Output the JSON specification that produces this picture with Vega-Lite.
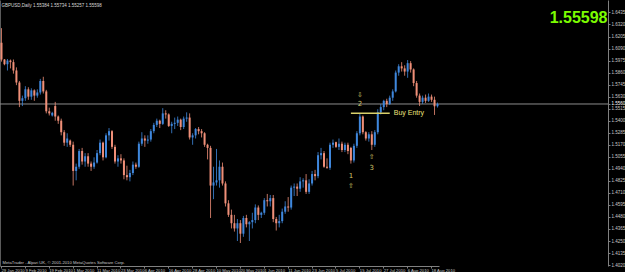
{
"$schema":"https://vega.github.io/schema/vega-lite/v6.json",
"width":608,"height":266,
"autosize":{"type":"none"},
"padding":{"left":0,"top":0,"right":17,"bottom":6},
"background":"#000000",
"config":{"view":{"stroke":null},"font":"Liberation Sans"},
"title":{"text":"GBPUSD,Daily  1.55384 1.55734 1.55257 1.55598","anchor":"start","offset":-7,"fontSize":4.5,"fontWeight":"normal","color":"#d8d8d8","dx":2,"font":"Liberation Sans"},
"datasets":{
"bars":[
{"d":"29 Jan 2010","o":1.6145,"h":1.6285,"l":1.5965,"c":1.5985},
{"d":"31 Jan 2010","o":1.5985,"h":1.5990,"l":1.5930,"c":1.5940},
{"d":"1 Feb 2010","o":1.5940,"h":1.5990,"l":1.5880,"c":1.5975},
{"d":"2 Feb 2010","o":1.5975,"h":1.5985,"l":1.5900,"c":1.5960},
{"d":"3 Feb 2010","o":1.5960,"h":1.5985,"l":1.5850,"c":1.5880},
{"d":"4 Feb 2010","o":1.5880,"h":1.5910,"l":1.5740,"c":1.5765},
{"d":"5 Feb 2010","o":1.5765,"h":1.5780,"l":1.5530,"c":1.5590},
{"d":"8 Feb 2010","o":1.5590,"h":1.5640,"l":1.5540,"c":1.5615},
{"d":"9 Feb 2010","o":1.5615,"h":1.5730,"l":1.5590,"c":1.5700},
{"d":"10 Feb 2010","o":1.5700,"h":1.5720,"l":1.5600,"c":1.5630},
{"d":"11 Feb 2010","o":1.5630,"h":1.5710,"l":1.5600,"c":1.5690},
{"d":"12 Feb 2010","o":1.5690,"h":1.5700,"l":1.5590,"c":1.5640},
{"d":"15 Feb 2010","o":1.5640,"h":1.5700,"l":1.5620,"c":1.5670},
{"d":"16 Feb 2010","o":1.5670,"h":1.5800,"l":1.5650,"c":1.5780},
{"d":"17 Feb 2010","o":1.5780,"h":1.5820,"l":1.5660,"c":1.5680},
{"d":"18 Feb 2010","o":1.5680,"h":1.5695,"l":1.5470,"c":1.5490},
{"d":"19 Feb 2010","o":1.5490,"h":1.5525,"l":1.5450,"c":1.5470},
{"d":"21 Feb 2010","o":1.5450,"h":1.5485,"l":1.5440,"c":1.5475},
{"d":"22 Feb 2010","o":1.5540,"h":1.5580,"l":1.5400,"c":1.5440},
{"d":"23 Feb 2010","o":1.5440,"h":1.5450,"l":1.5370,"c":1.5400},
{"d":"24 Feb 2010","o":1.5400,"h":1.5420,"l":1.5260,"c":1.5290},
{"d":"25 Feb 2010","o":1.5290,"h":1.5310,"l":1.5160,"c":1.5190},
{"d":"26 Feb 2010","o":1.5190,"h":1.5280,"l":1.5150,"c":1.5230},
{"d":"28 Feb 2010","o":1.5210,"h":1.5220,"l":1.5150,"c":1.5170},
{"d":"1 Mar 2010","o":1.5170,"h":1.5200,"l":1.4780,"c":1.4920},
{"d":"2 Mar 2010","o":1.4920,"h":1.4990,"l":1.4830,"c":1.4960},
{"d":"3 Mar 2010","o":1.4960,"h":1.5130,"l":1.4940,"c":1.5110},
{"d":"4 Mar 2010","o":1.5110,"h":1.5140,"l":1.4980,"c":1.5010},
{"d":"5 Mar 2010","o":1.5010,"h":1.5090,"l":1.4960,"c":1.5060},
{"d":"8 Mar 2010","o":1.5060,"h":1.5090,"l":1.4960,"c":1.4990},
{"d":"9 Mar 2010","o":1.4990,"h":1.5010,"l":1.4920,"c":1.4960},
{"d":"10 Mar 2010","o":1.4960,"h":1.5050,"l":1.4940,"c":1.5000},
{"d":"11 Mar 2010","o":1.5000,"h":1.5120,"l":1.4990,"c":1.5090},
{"d":"12 Mar 2010","o":1.5090,"h":1.5220,"l":1.5070,"c":1.5190},
{"d":"15 Mar 2010","o":1.5190,"h":1.5200,"l":1.5020,"c":1.5050},
{"d":"16 Mar 2010","o":1.5050,"h":1.5280,"l":1.5040,"c":1.5260},
{"d":"17 Mar 2010","o":1.5260,"h":1.5330,"l":1.5210,"c":1.5300},
{"d":"18 Mar 2010","o":1.5300,"h":1.5310,"l":1.5130,"c":1.5150},
{"d":"19 Mar 2010","o":1.5150,"h":1.5170,"l":1.4990,"c":1.5010},
{"d":"22 Mar 2010","o":1.5010,"h":1.5070,"l":1.4960,"c":1.5040},
{"d":"23 Mar 2010","o":1.5040,"h":1.5080,"l":1.4990,"c":1.5020},
{"d":"24 Mar 2010","o":1.5020,"h":1.5040,"l":1.4840,"c":1.4880},
{"d":"25 Mar 2010","o":1.4880,"h":1.4970,"l":1.4830,"c":1.4860},
{"d":"26 Mar 2010","o":1.4860,"h":1.4930,"l":1.4820,"c":1.4900},
{"d":"29 Mar 2010","o":1.4900,"h":1.5010,"l":1.4880,"c":1.4980},
{"d":"30 Mar 2010","o":1.4980,"h":1.5000,"l":1.4940,"c":1.4960},
{"d":"31 Mar 2010","o":1.4960,"h":1.5200,"l":1.4950,"c":1.5180},
{"d":"1 Apr 2010","o":1.5180,"h":1.5290,"l":1.5160,"c":1.5230},
{"d":"6 Apr 2010","o":1.5230,"h":1.5260,"l":1.5150,"c":1.5210},
{"d":"7 Apr 2010","o":1.5210,"h":1.5260,"l":1.5180,"c":1.5220},
{"d":"8 Apr 2010","o":1.5220,"h":1.5320,"l":1.5200,"c":1.5300},
{"d":"9 Apr 2010","o":1.5300,"h":1.5380,"l":1.5280,"c":1.5360},
{"d":"12 Apr 2010","o":1.5360,"h":1.5420,"l":1.5340,"c":1.5400},
{"d":"13 Apr 2010","o":1.5400,"h":1.5410,"l":1.5330,"c":1.5370},
{"d":"14 Apr 2010","o":1.5370,"h":1.5520,"l":1.5360,"c":1.5470},
{"d":"15 Apr 2010","o":1.5470,"h":1.5500,"l":1.5420,"c":1.5460},
{"d":"16 Apr 2010","o":1.5460,"h":1.5470,"l":1.5340,"c":1.5350},
{"d":"19 Apr 2010","o":1.5350,"h":1.5390,"l":1.5280,"c":1.5370},
{"d":"20 Apr 2010","o":1.5370,"h":1.5430,"l":1.5320,"c":1.5380},
{"d":"21 Apr 2010","o":1.5380,"h":1.5440,"l":1.5350,"c":1.5410},
{"d":"22 Apr 2010","o":1.5410,"h":1.5420,"l":1.5310,"c":1.5340},
{"d":"23 Apr 2010","o":1.5340,"h":1.5440,"l":1.5320,"c":1.5420},
{"d":"26 Apr 2010","o":1.5420,"h":1.5480,"l":1.5390,"c":1.5430},
{"d":"27 Apr 2010","o":1.5430,"h":1.5470,"l":1.5220,"c":1.5240},
{"d":"28 Apr 2010","o":1.5240,"h":1.5280,"l":1.5170,"c":1.5260},
{"d":"29 Apr 2010","o":1.5260,"h":1.5330,"l":1.5230,"c":1.5320},
{"d":"30 Apr 2010","o":1.5320,"h":1.5340,"l":1.5270,"c":1.5300},
{"d":"3 May 2010","o":1.5300,"h":1.5320,"l":1.5240,"c":1.5280},
{"d":"4 May 2010","o":1.5280,"h":1.5290,"l":1.5150,"c":1.5170},
{"d":"5 May 2010","o":1.5170,"h":1.5180,"l":1.5030,"c":1.5140},
{"d":"6 May 2010","o":1.5140,"h":1.5160,"l":1.4470,"c":1.4780},
{"d":"7 May 2010","o":1.4780,"h":1.4960,"l":1.4650,"c":1.4810},
{"d":"10 May 2010","o":1.4810,"h":1.5130,"l":1.4780,"c":1.4830},
{"d":"11 May 2010","o":1.4830,"h":1.5020,"l":1.4760,"c":1.4960},
{"d":"12 May 2010","o":1.4960,"h":1.5000,"l":1.4780,"c":1.4800},
{"d":"13 May 2010","o":1.4800,"h":1.4820,"l":1.4580,"c":1.4610},
{"d":"14 May 2010","o":1.4610,"h":1.4640,"l":1.4480,"c":1.4500},
{"d":"17 May 2010","o":1.4500,"h":1.4550,"l":1.4370,"c":1.4420},
{"d":"18 May 2010","o":1.4420,"h":1.4500,"l":1.4340,"c":1.4370},
{"d":"19 May 2010","o":1.4370,"h":1.4460,"l":1.4250,"c":1.4420},
{"d":"20 May 2010","o":1.4420,"h":1.4450,"l":1.4231,"c":1.4320},
{"d":"21 May 2010","o":1.4320,"h":1.4490,"l":1.4290,"c":1.4470},
{"d":"24 May 2010","o":1.4470,"h":1.4500,"l":1.4380,"c":1.4410},
{"d":"25 May 2010","o":1.4410,"h":1.4440,"l":1.4250,"c":1.4430},
{"d":"26 May 2010","o":1.4430,"h":1.4520,"l":1.4370,"c":1.4450},
{"d":"27 May 2010","o":1.4450,"h":1.4600,"l":1.4420,"c":1.4570},
{"d":"28 May 2010","o":1.4570,"h":1.4590,"l":1.4450,"c":1.4500},
{"d":"31 May 2010","o":1.4500,"h":1.4530,"l":1.4470,"c":1.4520},
{"d":"1 Jun 2010","o":1.4520,"h":1.4660,"l":1.4500,"c":1.4640},
{"d":"2 Jun 2010","o":1.4640,"h":1.4700,"l":1.4580,"c":1.4630},
{"d":"3 Jun 2010","o":1.4630,"h":1.4690,"l":1.4580,"c":1.4660},
{"d":"4 Jun 2010","o":1.4660,"h":1.4690,"l":1.4430,"c":1.4460},
{"d":"7 Jun 2010","o":1.4460,"h":1.4480,"l":1.4350,"c":1.4420},
{"d":"8 Jun 2010","o":1.4420,"h":1.4500,"l":1.4380,"c":1.4440},
{"d":"9 Jun 2010","o":1.4440,"h":1.4560,"l":1.4420,"c":1.4530},
{"d":"10 Jun 2010","o":1.4530,"h":1.4630,"l":1.4510,"c":1.4580},
{"d":"11 Jun 2010","o":1.4580,"h":1.4670,"l":1.4530,"c":1.4570},
{"d":"14 Jun 2010","o":1.4570,"h":1.4780,"l":1.4550,"c":1.4760},
{"d":"15 Jun 2010","o":1.4760,"h":1.4800,"l":1.4680,"c":1.4770},
{"d":"16 Jun 2010","o":1.4770,"h":1.4800,"l":1.4680,"c":1.4750},
{"d":"17 Jun 2010","o":1.4750,"h":1.4860,"l":1.4720,"c":1.4820},
{"d":"18 Jun 2010","o":1.4820,"h":1.4850,"l":1.4760,"c":1.4830},
{"d":"21 Jun 2010","o":1.4830,"h":1.4890,"l":1.4700,"c":1.4720},
{"d":"22 Jun 2010","o":1.4720,"h":1.4840,"l":1.4700,"c":1.4800},
{"d":"23 Jun 2010","o":1.4800,"h":1.4920,"l":1.4780,"c":1.4890},
{"d":"24 Jun 2010","o":1.4890,"h":1.4930,"l":1.4830,"c":1.4870},
{"d":"25 Jun 2010","o":1.4870,"h":1.5100,"l":1.4850,"c":1.5070},
{"d":"28 Jun 2010","o":1.5070,"h":1.5140,"l":1.5030,"c":1.5090},
{"d":"29 Jun 2010","o":1.5090,"h":1.5110,"l":1.4950,"c":1.4960},
{"d":"30 Jun 2010","o":1.4960,"h":1.5040,"l":1.4940,"c":1.4950},
{"d":"1 Jul 2010","o":1.4950,"h":1.5190,"l":1.4930,"c":1.5170},
{"d":"2 Jul 2010","o":1.5170,"h":1.5220,"l":1.5140,"c":1.5190},
{"d":"5 Jul 2010","o":1.5195,"h":1.5200,"l":1.5140,"c":1.5150},
{"d":"6 Jul 2010","o":1.5150,"h":1.5230,"l":1.5120,"c":1.5180},
{"d":"7 Jul 2010","o":1.5180,"h":1.5200,"l":1.5100,"c":1.5120},
{"d":"8 Jul 2010","o":1.5120,"h":1.5190,"l":1.5100,"c":1.5170},
{"d":"9 Jul 2010","o":1.5170,"h":1.5190,"l":1.5080,"c":1.5110},
{"d":"12 Jul 2010","o":1.5140,"h":1.5150,"l":1.4990,"c":1.5020},
{"d":"13 Jul 2010","o":1.5020,"h":1.5180,"l":1.5000,"c":1.5160},
{"d":"14 Jul 2010","o":1.5160,"h":1.5300,"l":1.5140,"c":1.5280},
{"d":"15 Jul 2010","o":1.5280,"h":1.5472,"l":1.5260,"c":1.5440},
{"d":"16 Jul 2010","o":1.5440,"h":1.5450,"l":1.5270,"c":1.5290},
{"d":"19 Jul 2010","o":1.5290,"h":1.5300,"l":1.5210,"c":1.5230},
{"d":"20 Jul 2010","o":1.5230,"h":1.5290,"l":1.5200,"c":1.5270},
{"d":"21 Jul 2010","o":1.5270,"h":1.5300,"l":1.5120,"c":1.5170},
{"d":"22 Jul 2010","o":1.5170,"h":1.5310,"l":1.5150,"c":1.5290},
{"d":"23 Jul 2010","o":1.5290,"h":1.5510,"l":1.5270,"c":1.5480},
{"d":"26 Jul 2010","o":1.5480,"h":1.5560,"l":1.5460,"c":1.5530},
{"d":"27 Jul 2010","o":1.5530,"h":1.5600,"l":1.5500,"c":1.5590},
{"d":"28 Jul 2010","o":1.5590,"h":1.5610,"l":1.5530,"c":1.5560},
{"d":"29 Jul 2010","o":1.5560,"h":1.5640,"l":1.5550,"c":1.5620},
{"d":"30 Jul 2010","o":1.5620,"h":1.5700,"l":1.5590,"c":1.5680},
{"d":"2 Aug 2010","o":1.5680,"h":1.5880,"l":1.5670,"c":1.5860},
{"d":"3 Aug 2010","o":1.5860,"h":1.5940,"l":1.5830,"c":1.5920},
{"d":"4 Aug 2010","o":1.5920,"h":1.5960,"l":1.5870,"c":1.5900},
{"d":"5 Aug 2010","o":1.5900,"h":1.5930,"l":1.5830,"c":1.5870},
{"d":"6 Aug 2010","o":1.5870,"h":1.5980,"l":1.5810,"c":1.5950},
{"d":"9 Aug 2010","o":1.5950,"h":1.5970,"l":1.5860,"c":1.5890},
{"d":"10 Aug 2010","o":1.5890,"h":1.5900,"l":1.5730,"c":1.5760},
{"d":"11 Aug 2010","o":1.5760,"h":1.5780,"l":1.5620,"c":1.5640},
{"d":"12 Aug 2010","o":1.5640,"h":1.5660,"l":1.5540,"c":1.5580},
{"d":"13 Aug 2010","o":1.5580,"h":1.5640,"l":1.5560,"c":1.5620},
{"d":"16 Aug 2010","o":1.5620,"h":1.5650,"l":1.5570,"c":1.5590},
{"d":"17 Aug 2010","o":1.5590,"h":1.5660,"l":1.5580,"c":1.5630},
{"d":"18 Aug 2010","o":1.5630,"h":1.5650,"l":1.5580,"c":1.5600},
{"d":"19 Aug 2010","o":1.5600,"h":1.5630,"l":1.5455,"c":1.5538},
{"d":"20 Aug 2010","o":1.55384,"h":1.55734,"l":1.55257,"c":1.55598}
],
"notes":[
{"d":"15 Jul 2010","p":1.5646,"t":"⇩"},
{"d":"15 Jul 2010","p":1.5557,"t":"2"},
{"d":"21 Jul 2010","p":1.5056,"t":"⇧"},
{"d":"21 Jul 2010","p":1.4945,"t":"3"},
{"d":"12 Jul 2010","p":1.4874,"t":"1"},
{"d":"12 Jul 2010","p":1.4776,"t":"⇧"}
]
},
"resolve":{"axis":{"y":"independent"}},
"layer":[
{
"data":{"values":[{"p":1.55598}]},
"mark":{"type":"rule","color":"#8c8c8c","strokeWidth":1},
"encoding":{
"y":{"field":"p","type":"quantitative","scale":{"domain":[1.4011,1.6554],"nice":false,"zero":false},
"axis":{"orient":"left","labels":false,"ticks":false,"title":null,"grid":false,"domainColor":"#5a5a5a"}}
}
},
{
"data":{"name":"bars"},
"mark":{"type":"rule","strokeWidth":1,"opacity":0.8},
"encoding":{
"x":{"field":"d","type":"ordinal","sort":null,
"scale":{"type":"band","paddingInner":0,"paddingOuter":0,"round":false,"range":[0,439],
"domain":["29 Jan 2010","31 Jan 2010","1 Feb 2010","2 Feb 2010","3 Feb 2010","4 Feb 2010","5 Feb 2010","8 Feb 2010","9 Feb 2010","10 Feb 2010","11 Feb 2010","12 Feb 2010","15 Feb 2010","16 Feb 2010","17 Feb 2010","18 Feb 2010","19 Feb 2010","21 Feb 2010","22 Feb 2010","23 Feb 2010","24 Feb 2010","25 Feb 2010","26 Feb 2010","28 Feb 2010","1 Mar 2010","2 Mar 2010","3 Mar 2010","4 Mar 2010","5 Mar 2010","8 Mar 2010","9 Mar 2010","10 Mar 2010","11 Mar 2010","12 Mar 2010","15 Mar 2010","16 Mar 2010","17 Mar 2010","18 Mar 2010","19 Mar 2010","22 Mar 2010","23 Mar 2010","24 Mar 2010","25 Mar 2010","26 Mar 2010","29 Mar 2010","30 Mar 2010","31 Mar 2010","1 Apr 2010","6 Apr 2010","7 Apr 2010","8 Apr 2010","9 Apr 2010","12 Apr 2010","13 Apr 2010","14 Apr 2010","15 Apr 2010","16 Apr 2010","19 Apr 2010","20 Apr 2010","21 Apr 2010","22 Apr 2010","23 Apr 2010","26 Apr 2010","27 Apr 2010","28 Apr 2010","29 Apr 2010","30 Apr 2010","3 May 2010","4 May 2010","5 May 2010","6 May 2010","7 May 2010","10 May 2010","11 May 2010","12 May 2010","13 May 2010","14 May 2010","17 May 2010","18 May 2010","19 May 2010","20 May 2010","21 May 2010","24 May 2010","25 May 2010","26 May 2010","27 May 2010","28 May 2010","31 May 2010","1 Jun 2010","2 Jun 2010","3 Jun 2010","4 Jun 2010","7 Jun 2010","8 Jun 2010","9 Jun 2010","10 Jun 2010","11 Jun 2010","14 Jun 2010","15 Jun 2010","16 Jun 2010","17 Jun 2010","18 Jun 2010","21 Jun 2010","22 Jun 2010","23 Jun 2010","24 Jun 2010","25 Jun 2010","28 Jun 2010","29 Jun 2010","30 Jun 2010","1 Jul 2010","2 Jul 2010","5 Jul 2010","6 Jul 2010","7 Jul 2010","8 Jul 2010","9 Jul 2010","12 Jul 2010","13 Jul 2010","14 Jul 2010","15 Jul 2010","16 Jul 2010","19 Jul 2010","20 Jul 2010","21 Jul 2010","22 Jul 2010","23 Jul 2010","26 Jul 2010","27 Jul 2010","28 Jul 2010","29 Jul 2010","30 Jul 2010","2 Aug 2010","3 Aug 2010","4 Aug 2010","5 Aug 2010","6 Aug 2010","9 Aug 2010","10 Aug 2010","11 Aug 2010","12 Aug 2010","13 Aug 2010","16 Aug 2010","17 Aug 2010","18 Aug 2010","19 Aug 2010","20 Aug 2010"]},
"axis":{"values":["29 Jan 2010","9 Feb 2010","19 Feb 2010","1 Mar 2010","11 Mar 2010","23 Mar 2010","6 Apr 2010","16 Apr 2010","28 Apr 2010","10 May 2010","20 May 2010","1 Jun 2010","11 Jun 2010","23 Jun 2010","5 Jul 2010","15 Jul 2010","27 Jul 2010","6 Aug 2010","18 Aug 2010"],
"labelAngle":0,"labelAlign":"left","labelBaseline":"top","labelFontSize":4.2,"labelColor":"#c8c8c8","labelPadding":0,"labelOverlap":false,"labelBound":false,
"tickSize":2,"tickColor":"#808080","domainColor":"#808080","grid":false,
"title":"MetaTrader - Alpari UK, © 2001-2010 MetaQuotes Software Corp.","titleFontSize":4.2,"titleFontWeight":"normal","titleColor":"#c8c8c8","titleAlign":"left","titleAnchor":"start","titleBaseline":"alphabetic","titleX":2,"titleY":-3}},
"y":{"field":"l","type":"quantitative","scale":{"domain":[1.4011,1.6554],"nice":false,"zero":false},
"axis":{"orient":"right","values":[1.402,1.4135,1.425,1.4365,1.448,1.4595,1.471,1.4825,1.494,1.5055,1.517,1.5285,1.54,1.5515,1.55598,1.563,1.5745,1.586,1.5975,1.609,1.6205,1.632,1.6435],
"format":".4f","labelFontSize":4.5,"labelColor":{"expr":"datum.value == 1.55598 ? '#ffffff' : '#c8c8c8'"},"labelPadding":1,"labelOverlap":false,"labelBound":false,
"tickSize":2,"tickColor":"#808080","domainColor":"#808080","grid":false,
"title":"1.55598","titleAngle":0,"titleAlign":"right","titleBaseline":"alphabetic","titleX":-1,"titleY":22,"titleFontSize":16,"titleFontWeight":"bold","titleColor":"#7CFC00","titleFont":"Liberation Sans"}},
"y2":{"field":"h"},
"color":{"condition":{"test":"datum.c >= datum.o","value":"#3f87dc"},"value":"#ef8f78"}
}
},
{
"data":{"name":"bars"},
"mark":{"type":"bar","size":2},
"encoding":{
"x":{"field":"d","type":"ordinal","sort":null},
"y":{"field":"o","type":"quantitative","axis":null},
"y2":{"field":"c"},
"color":{"condition":{"test":"datum.c >= datum.o","value":"#3f87dc"},"value":"#ef8f78"}
}
},
{
"data":{"values":[{"a":"12 Jul 2010","b":"29 Jul 2010","p":1.5471}]},
"mark":{"type":"rule","color":"#d9d06a","strokeWidth":1.5},
"encoding":{
"x":{"field":"a","type":"ordinal","sort":null},
"x2":{"field":"b"},
"y":{"field":"p","type":"quantitative","axis":null}
}
},
{
"data":{"name":"notes"},
"mark":{"type":"text","color":"#d2c46a","fontSize":7,"font":"DejaVu Sans","align":"center","baseline":"middle"},
"encoding":{
"x":{"field":"d","type":"ordinal","sort":null},
"y":{"field":"p","type":"quantitative","axis":null},
"text":{"field":"t"}
}
},
{
"data":{"values":[{"d":"30 Jul 2010","p":1.5471,"t":"Buy Entry"}]},
"mark":{"type":"text","color":"#eee27a","fontSize":7,"font":"Liberation Sans","align":"left","baseline":"middle","dx":1},
"encoding":{
"x":{"field":"d","type":"ordinal","sort":null},
"y":{"field":"p","type":"quantitative","axis":null},
"text":{"field":"t"}
}
}
]
}
